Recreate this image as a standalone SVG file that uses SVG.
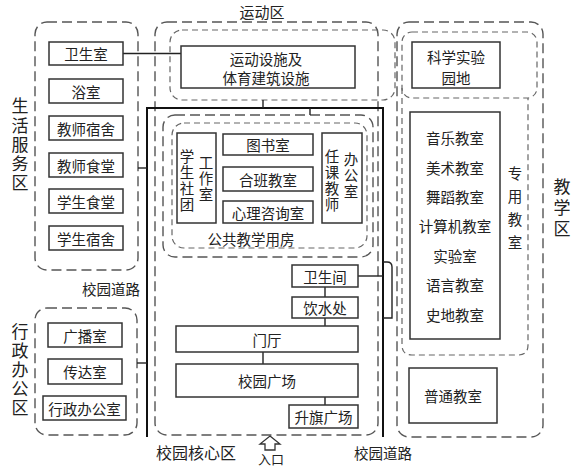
<svg xmlns="http://www.w3.org/2000/svg" width="584" height="468" viewBox="0 0 584 468">
<style>
text { font-family: "Noto Sans CJK SC", "Liberation Sans", sans-serif; fill: #222; }
.t { font-size: 14.5px; text-anchor: middle; dominant-baseline: central; }
.l { font-size: 16px; text-anchor: middle; dominant-baseline: central; }
.vt { writing-mode: vertical-rl; text-anchor: start; }
.box { fill: #fff; stroke: #333; stroke-width: 1.5; }
.zone { fill: none; stroke: #555; stroke-width: 1.4; stroke-dasharray: 10 5; }
.zone2 { fill: none; stroke: #666; stroke-width: 1.2; stroke-dasharray: 6 4; }
.road { fill: none; stroke: #111; stroke-width: 2; }
.link { fill: none; stroke: #222; stroke-width: 1.4; }
</style>
<rect x="0" y="0" width="584" height="468" fill="#fff"/>

<g id="zones">
  <rect class="zone" x="35" y="22" width="103" height="248" rx="12"/>
  <rect class="zone" x="35" y="308" width="102" height="127" rx="12"/>
  <rect class="zone" x="155" y="22" width="223" height="413" rx="12"/>
  <rect class="zone2" x="170" y="30" width="225" height="70" rx="12"/>
  <rect class="zone" x="163" y="115" width="210" height="142" rx="12"/>
  <rect class="zone2" x="172" y="123" width="195" height="125" rx="12"/>
  <rect class="zone" x="397" y="22" width="146" height="415" rx="12"/>
  <rect class="zone2" x="402" y="32" width="135" height="66" rx="10"/>
  <path class="zone2" d="M402,88 V345 Q402,355 412,355 H518 Q528,355 528,345 V98"/>
</g>

<g id="connectors">
  <path class="road" d="M147,437 V108 H383 V437"/>
  <path class="link" d="M123,53.5 H181"/>
  <path class="link" d="M138,168 H147"/>
  <path class="link" d="M137,363 H147"/>
  <path class="link" d="M263,100 V108"/>
  <path class="link" d="M310,108 V115"/>
  <path class="link" d="M358,276 H383"/>
  <path class="link" d="M325,287 V297"/>
  <path class="link" d="M325,318 V326"/>
  <path class="link" d="M263,352 V364"/>
  <path class="link" d="M325,397 V405"/>
  <path class="link" stroke-width="1.2" d="M383,262 H387 Q392,262 392,267 V318 H383"/>
</g>

<g id="labels">
  <text class="l" x="262" y="11" style="font-size:15px">运动区</text>
  <text class="vt" x="20" y="97.5" style="font-size:17px;letter-spacing:2.2px">生活服务区</text>
  <text class="vt" x="20" y="323.5" style="font-size:17px;letter-spacing:2px">行政办公区</text>
  <text class="t" x="111" y="288">校园道路</text>
  <text class="l" x="196" y="452">校园核心区</text>
  <text class="t" x="271" y="458" style="font-size:13px">入口</text>
  <text class="t" x="383" y="452">校园道路</text>
  <text class="t" x="251" y="238">公共教学用房</text>
  <text class="vt" x="515" y="166.5" style="font-size:14.5px;letter-spacing:8.5px">专用教室</text>
  <text class="vt" x="562" y="178.5" style="font-size:17px;letter-spacing:4px">教学区</text>
  <polygon points="270,436 280,444 275,444 275,450 265,450 265,444 260,444" fill="#fff" stroke="#333" stroke-width="1.3"/>
</g>

<g id="n-weishengshi"><rect class="box" x="49" y="42" width="74" height="23"/><text class="t" x="86" y="53.5">卫生室</text></g>
<g id="n-yushi"><rect class="box" x="49" y="79" width="74" height="24"/><text class="t" x="86" y="91">浴室</text></g>
<g id="n-jiaoshisushe"><rect class="box" x="49" y="116" width="74" height="24"/><text class="t" x="86" y="128">教师宿舍</text></g>
<g id="n-jiaoshishitang"><rect class="box" x="49" y="153" width="74" height="24"/><text class="t" x="86" y="165">教师食堂</text></g>
<g id="n-xueshengshitang"><rect class="box" x="49" y="189" width="74" height="24"/><text class="t" x="86" y="201">学生食堂</text></g>
<g id="n-xueshengsushe"><rect class="box" x="49" y="226" width="74" height="24"/><text class="t" x="86" y="238">学生宿舍</text></g>

<g id="n-guangboshi"><rect class="box" x="48" y="323" width="74" height="24"/><text class="t" x="85" y="335">广播室</text></g>
<g id="n-chuandashi"><rect class="box" x="48" y="359" width="74" height="25"/><text class="t" x="85" y="371.5">传达室</text></g>
<g id="n-xingzheng"><rect class="box" x="43" y="396" width="83" height="24"/><text class="t" x="84.5" y="408">行政办公室</text></g>

<g id="n-yundong"><rect class="box" x="181" y="46" width="174" height="42"/><text class="t" x="266" y="58">运动设施及</text><text class="t" x="266" y="77">体育建筑设施</text></g>

<g id="n-shetuan"><rect class="box" x="177" y="133" width="39" height="90"/>
  <text class="vt" x="187" y="149.5" style="font-size:14.5px;letter-spacing:1.5px">学生社团</text>
  <text class="vt" x="206" y="155.5" style="font-size:14.5px;letter-spacing:1.5px">工作室</text></g>
<g id="n-tushushi"><rect class="box" x="223" y="134" width="90" height="21"/><text class="t" x="268" y="144.5">图书室</text></g>
<g id="n-heban"><rect class="box" x="223" y="167" width="90" height="24"/><text class="t" x="268" y="179">合班教室</text></g>
<g id="n-xinli"><rect class="box" x="223" y="201" width="90" height="22"/><text class="t" x="268" y="212">心理咨询室</text></g>
<g id="n-renke"><rect class="box" x="322" y="133" width="40" height="90"/>
  <text class="vt" x="332" y="149.5" style="font-size:14.5px;letter-spacing:1.5px">任课教师</text>
  <text class="vt" x="351" y="152.5" style="font-size:14.5px;letter-spacing:1.5px">办公室</text></g>

<g id="n-weishengjian"><rect class="box" x="292" y="265" width="66" height="22"/><text class="t" x="325" y="276">卫生间</text></g>
<g id="n-yinshui"><rect class="box" x="292" y="297" width="66" height="21"/><text class="t" x="325" y="307.5">饮水处</text></g>
<g id="n-menting"><rect class="box" x="176" y="326" width="182" height="26"/><text class="t" x="267" y="339">门厅</text></g>
<g id="n-guangchang"><rect class="box" x="176" y="364" width="182" height="33"/><text class="t" x="267" y="380.5">校园广场</text></g>
<g id="n-shengqi"><rect class="box" x="289" y="405" width="69" height="23"/><text class="t" x="323.5" y="416.5">升旗广场</text></g>

<g id="n-kexue"><rect class="box" x="412" y="42" width="88" height="46"/><text class="t" x="456" y="56">科学实验</text><text class="t" x="456" y="77">园地</text></g>
<g id="n-zhuanyong"><rect class="box" x="410" y="112" width="90" height="227"/>
  <text class="t" x="455" y="137">音乐教室</text>
  <text class="t" x="455" y="167">美术教室</text>
  <text class="t" x="455" y="196">舞蹈教室</text>
  <text class="t" x="455" y="225">计算机教室</text>
  <text class="t" x="455" y="255">实验室</text>
  <text class="t" x="455" y="284">语言教室</text>
  <text class="t" x="455" y="314">史地教室</text></g>
<g id="n-putong"><rect class="box" x="409" y="368" width="88" height="55"/><text class="t" x="453" y="395.5">普通教室</text></g>
</svg>
